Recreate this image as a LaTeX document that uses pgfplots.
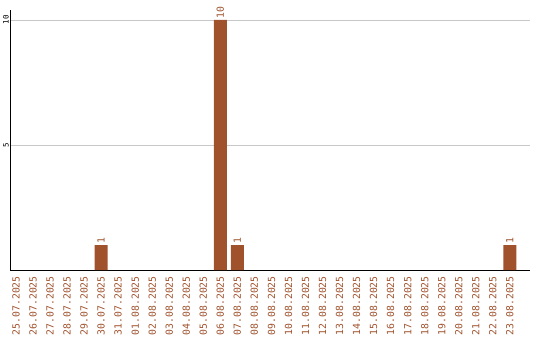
\documentclass[border=0pt]{standalone}
\usepackage{pgfplots}
\pgfplotsset{compat=1.18}
\usepackage{fontspec}
\setmainfont{DejaVu Sans Mono}
\setmonofont{DejaVu Sans Mono}
\definecolor{barbrown}{HTML}{A0522D}
\definecolor{gridgrey}{HTML}{C8C8C8}
\begin{document}
\begin{tikzpicture}
\begin{axis}[
  scale only axis,
  width=520pt, height=260pt,
  xmin=-0.35, xmax=30.18,
  ymin=0, ymax=10.4,
  axis x line=bottom, axis y line=left,
  axis line style={-, black, line width=0.9pt},
  major tick length=0pt,
  xtick={0,...,29},
  xticklabels={25.07.2025,26.07.2025,27.07.2025,28.07.2025,29.07.2025,30.07.2025,31.07.2025,01.08.2025,02.08.2025,03.08.2025,04.08.2025,05.08.2025,06.08.2025,07.08.2025,08.08.2025,09.08.2025,10.08.2025,11.08.2025,12.08.2025,13.08.2025,14.08.2025,15.08.2025,16.08.2025,17.08.2025,18.08.2025,19.08.2025,20.08.2025,21.08.2025,22.08.2025,23.08.2025},
  xticklabel shift=6pt,
  xticklabel style={rotate=90, anchor=east, font=\fontsize{9.8}{10}\selectfont, text=barbrown, inner sep=0pt},
  xtick style={draw=none},
  ytick={5,10},
  yticklabel shift=0pt,
  yticklabel style={rotate=90, anchor=south, font=\fontsize{7.5}{8}\selectfont, text=black, inner sep=1pt},
  /pgf/number format/assume math mode=true,
  ymajorgrids, grid style={gridgrey, line width=0.6pt},
  clip=false,
]
\addplot[ybar, bar width=13pt, fill=barbrown, draw=none,
  nodes near coords,
  every node near coord/.append style={rotate=90, anchor=west, font=\fontsize{9.8}{10}\selectfont, text=barbrown, inner sep=1pt}]
  coordinates {(5,1) (12,10) (13,1) (29,1)};
\end{axis}
\pgfresetboundingbox
\path (current axis.south west) ++(-10pt,-70pt) rectangle ++(540pt,340pt);
\end{tikzpicture}
\end{document}
